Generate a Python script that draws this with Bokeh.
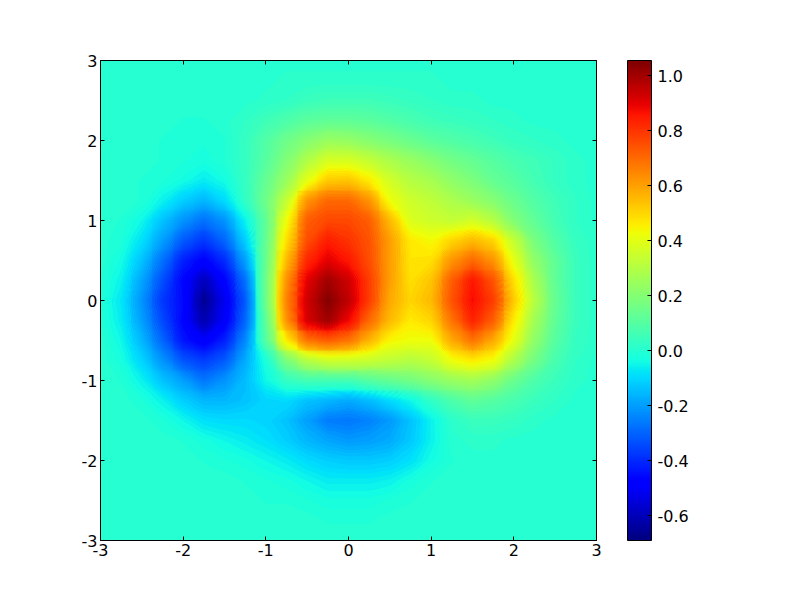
import numpy as np
from bokeh.embed import file_html
from bokeh.resources import INLINE
from bokeh.plotting import figure
from bokeh.models import LinearColorMapper, ColorBar, FixedTicker, LinearAxis, Range1d

tick_values = [-3, -2, -1, 0, 1, 2, 3]
colorbar_ticks = [-0.6, -0.4, -0.2, 0.0, 0.2, 0.4, 0.6, 0.8, 1.0]
z_low = -0.69
z_high = 1.055
grid_x = [-3, -2.75, -2.5, -2.25, -2, -1.75, -1.5, -1.25, -1, -.75, -.5, -.25, 0,
          .25, .5, .75, 1, 1.25, 1.5, 1.75, 2, 2.25, 2.5, 2.75, 3]
grid_y = [3, 2.75, 2.5, 2.25, 2, 1.75, 1.5, 1.25, 1, .75, .5, .25, 0,
          -.25, -.5, -.75, -1, -1.25, -1.5, -1.75, -2, -2.25, -2.5, -2.75, -3]

# values, one row per grid_y, one column per grid_x
z_rows = [
 [0,0,0,0,0,0,0,0,0,0,0,0,0,0,0,0,0,0,0,0,0,0,0,0,0],
 [0,0,0,0,0,0,0,0,0,.01,.01,.01,.01,.01,.01,.01,.01,0,0,0,0,0,0,0,0],
 [0,0,0,0,0,0,0,0,.01,.02,.04,.05,.05,.05,.04,.03,.02,.01,.01,0,0,0,0,0,0],
 [0,0,0,0,-.01,-.01,0,.02,.05,.08,.11,.12,.12,.11,.09,.07,.05,.04,.03,.02,.01,0,0,0,0],
 [0,0,0,-.01,-.02,-.02,-.01,.03,.09,.15,.20,.24,.23,.20,.17,.14,.11,.09,.07,.05,.03,.02,.01,0,0],
 [0,0,0,-.01,-.02,-.03,-.01,.03,.10,.19,.29,.37,.37,.33,.28,.24,.20,.16,.13,.10,.07,.05,.03,.01,0],
 [0,0,-.01,-.02,-.04,-.07,-.04,.03,.13,.24,.40,.52,.53,.46,.36,.30,.27,.22,.18,.13,.10,.06,.03,.01,0],
 [0,0,-.01,-.06,-.12,-.16,-.10,.02,.15,.33,.62,.70,.70,.62,.42,.35,.32,.28,.24,.20,.14,.09,.05,.02,0],
 [0,-.01,-.05,-.14,-.22,-.28,-.22,-.06,.12,.42,.72,.76,.76,.72,.55,.38,.35,.33,.36,.30,.19,.12,.06,.02,0],
 [0,-.02,-.09,-.20,-.32,-.38,-.30,-.12,.13,.48,.75,.84,.80,.74,.60,.46,.43,.50,.55,.50,.33,.17,.09,.03,.01],
 [0,-.04,-.14,-.28,-.42,-.48,-.40,-.20,.14,.55,.82,.90,.85,.75,.60,.47,.48,.62,.70,.62,.40,.22,.12,.04,.01],
 [-.01,-.06,-.19,-.34,-.47,-.60,-.48,-.28,.15,.62,.90,1.0,.93,.78,.60,.48,.53,.72,.85,.74,.48,.27,.12,.04,.01],
 [-.01,-.08,-.22,-.38,-.46,-.66,-.52,-.32,.15,.65,.93,1.04,.95,.78,.58,.50,.55,.74,.87,.78,.52,.30,.13,.04,.01],
 [-.01,-.07,-.20,-.35,-.47,-.62,-.50,-.30,.12,.62,.92,1.0,.88,.70,.55,.46,.50,.68,.83,.72,.46,.26,.12,.04,.01],
 [0,-.05,-.16,-.30,-.44,-.50,-.42,-.24,.10,.46,.68,.72,.68,.56,.44,.42,.42,.58,.68,.58,.40,.22,.10,.03,.01],
 [0,-.03,-.11,-.22,-.33,-.37,-.32,-.18,-.02,.18,.30,.35,.35,.34,.32,.30,.33,.42,.46,.42,.28,.16,.07,.02,0],
 [0,-.01,-.06,-.14,-.20,-.27,-.22,-.15,-.05,.03,.06,.06,.06,.10,.13,.16,.20,.24,.26,.22,.14,.08,.04,.01,0],
 [0,0,-.02,-.06,-.12,-.16,-.16,-.14,-.11,-.10,-.14,-.16,-.18,-.15,-.10,-.05,.02,.08,.12,.10,.07,.04,.02,0,0],
 [0,0,0,-.02,-.05,-.09,-.10,-.10,-.11,-.14,-.20,-.26,-.27,-.25,-.21,-.14,-.06,.01,.04,.04,.03,.01,0,0,0],
 [0,0,0,0,-.01,-.03,-.05,-.07,-.09,-.12,-.16,-.19,-.21,-.20,-.18,-.13,-.06,0,.01,.01,0,0,0,0,0],
 [0,0,0,0,0,-.01,-.02,-.03,-.05,-.07,-.10,-.12,-.13,-.13,-.12,-.09,-.04,-.01,0,0,0,0,0,0,0],
 [0,0,0,0,0,0,0,-.01,-.02,-.03,-.05,-.07,-.07,-.07,-.06,-.03,-.01,0,0,0,0,0,0,0,0],
 [0,0,0,0,0,0,0,0,-.01,-.01,-.02,-.03,-.03,-.03,-.02,-.01,0,0,0,0,0,0,0,0,0],
 [0,0,0,0,0,0,0,0,0,0,0,-.01,-.01,-.01,0,0,0,0,0,0,0,0,0,0,0],
 [0,0,0,0,0,0,0,0,0,0,0,0,0,0,0,0,0,0,0,0,0,0,0,0,0],
]


def jet_palette(n=256):
    t = np.linspace(0, 1, n)
    r = np.interp(t, [0, .35, .66, .89, 1], [0, 0, 1, 1, .5])
    g = np.interp(t, [0, .125, .375, .64, .91, 1], [0, 0, 1, 1, 0, 0])
    b = np.interp(t, [0, .11, .34, .65, 1], [.5, 1, 1, 0, 0])
    return ["#%02x%02x%02x" % (int(round(a * 255)), int(round(c * 255)), int(round(d * 255)))
            for a, c, d in zip(r, g, b)]


FONT = "DejaVu Sans"
SIZE = "16px"

palette = jet_palette()
mapper = LinearColorMapper(palette=palette, low=z_low, high=z_high)

p = figure(width=792, height=592, output_backend="svg", toolbar_location=None,
           x_range=Range1d(-3, 3), y_range=Range1d(-3, 3),
           min_border_left=100, min_border_right=196, min_border_top=60, min_border_bottom=52)
p.grid.visible = False
p.outline_line_color = "black"
p.outline_line_width = 1

z = np.array(z_rows, dtype=float)[::-1]
xs = np.array(grid_x, dtype=float)
ys = np.array(grid_y, dtype=float)[::-1]
half = (xs[1] - xs[0]) / 2

# blocky image underneath keeps hairline seams between contour bands invisible
p.image(image=[z], x=xs[0] - half, y=ys[0] - half,
        dw=xs[-1] - xs[0] + 2 * half, dh=ys[-1] - ys[0] + 2 * half, color_mapper=mapper)

bands = 128
levels = np.linspace(z_low, z_high, bands + 1)
band_colors = [palette[int((i + 0.5) * len(palette) / bands)] for i in range(bands)]
p.contour(xs, ys, z, levels, fill_color=band_colors, line_color=None)

labels = {t: str(t) for t in tick_values}
blanks = {t: "" for t in tick_values}


def style(ax, text):
    ax.ticker = FixedTicker(ticks=tick_values)
    ax.major_label_overrides = text
    ax.major_label_text_font = FONT
    ax.major_label_text_font_size = SIZE
    ax.major_label_text_color = "black"
    ax.major_label_standoff = 3
    ax.major_tick_in = 4
    ax.major_tick_out = 0
    ax.minor_tick_in = 0
    ax.minor_tick_out = 0
    ax.axis_line_color = "black"
    ax.major_tick_line_color = "black"


style(p.xaxis[0], labels)
style(p.yaxis[0], labels)
for side in ("above", "right"):
    ax = LinearAxis()
    style(ax, blanks)
    ax.major_label_standoff = 0
    p.add_layout(ax, side)

bar = ColorBar(color_mapper=mapper, location=(527, 0), width=24, height=480,
               padding=0, margin=0,
               ticker=FixedTicker(ticks=colorbar_ticks),
               major_label_overrides={t: ("%.1f" % t) for t in colorbar_ticks},
               major_label_text_font=FONT, major_label_text_font_size=SIZE,
               major_label_text_color="black", label_standoff=6,
               major_tick_in=4, major_tick_out=0,
               major_tick_line_color="black", minor_tick_line_color=None,
               bar_line_color="black", bar_line_width=1,
               border_line_color=None, background_fill_color=None)
p.add_layout(bar, "center")

open("out.html", "w").write(file_html(p, INLINE))
